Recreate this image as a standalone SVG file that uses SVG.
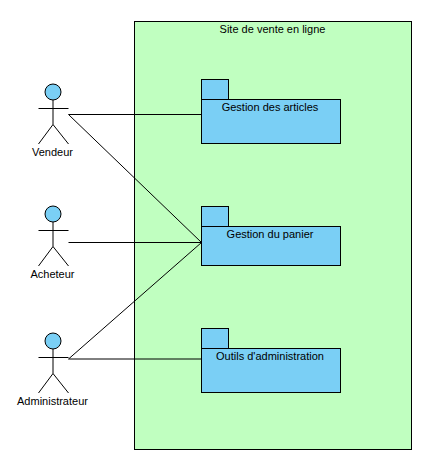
<svg xmlns="http://www.w3.org/2000/svg" width="424" height="464" viewBox="0 0 424 464">
<style>
text{font-family:"Liberation Sans",Arial,sans-serif;font-size:11px;fill:#000;text-anchor:middle}
.l{fill:none;stroke:#000;stroke-width:1}
.p{fill:#7acff5;stroke:#000;stroke-width:1}
</style>
<defs>
<g id="actor">
<circle class="p" cx="53" cy="0" r="8"/>
<path class="l" d="M53 8V32.500M38.500 16.500H68.500M53 32.500L38.500 52M53 32.500L68.500 52"/>
</g>
</defs>
<rect width="424" height="464" fill="#fff"/>
<g id="system">
<rect x="134.500" y="21.500" width="277" height="428" fill="#c0ffc0" stroke="#000"/>
<text x="272.500" y="33">Site de vente en ligne</text>
</g>
<g id="connectors">
<path class="l" d="M68.500 114.500H201.500M68.500 114.500L201.500 242.500M68.500 242.500H201.500M68.500 359L201.500 242.500M68.500 359H201.500"/>
</g>
<g id="vendeur"><use href="#actor" y="92"/><text x="52.500" y="156">Vendeur</text></g>
<g id="acheteur"><use href="#actor" y="214"/><text x="52.500" y="278">Acheteur</text></g>
<g id="administrateur"><use href="#actor" y="341"/><text x="52.500" y="405">Administrateur</text></g>
<g id="gestion-articles">
<rect class="p" x="201.500" y="79.500" width="27" height="20"/>
<rect class="p" x="201.500" y="99.500" width="139" height="44"/>
<text x="270" y="111">Gestion des articles</text>
</g>
<g id="gestion-panier">
<rect class="p" x="201.500" y="206.500" width="27" height="20"/>
<rect class="p" x="201.500" y="226.500" width="139" height="39"/>
<text x="270" y="238">Gestion du panier</text>
</g>
<g id="outils-administration">
<rect class="p" x="201.500" y="328.500" width="27" height="20"/>
<rect class="p" x="201.500" y="348.500" width="139" height="44"/>
<text x="270" y="360">Outils d'administration</text>
</g>
</svg>
